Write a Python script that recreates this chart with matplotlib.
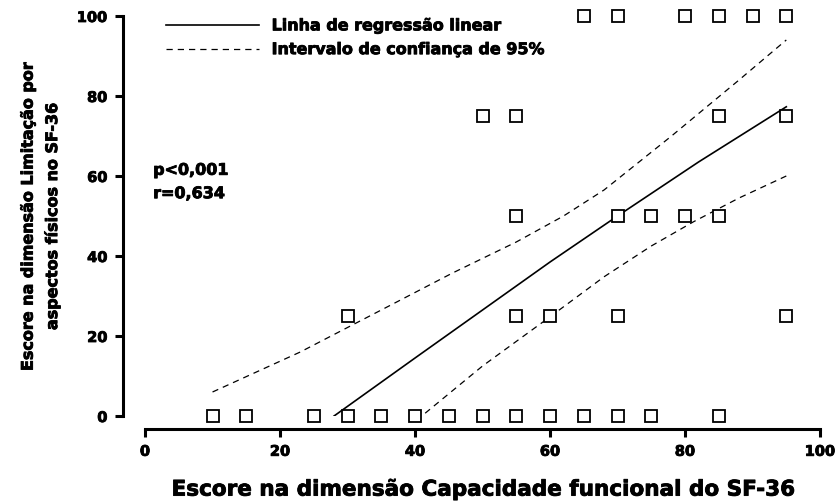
import matplotlib
matplotlib.use("Agg")
import matplotlib.pyplot as plt
import matplotlib.patheffects as pe

plt.rcParams['font.family'] = ['DejaVu Sans']
plt.rcParams['font.weight'] = 'bold'

# pontos observados (x = capacidade funcional, y = limitacao por aspectos fisicos)
x_y0 = [10, 15, 25, 30, 35, 40, 45, 50, 55, 60, 65, 70, 75, 85]
x_y25 = [30, 55, 60, 70, 95]
x_y50 = [55, 70, 75, 80, 85]
x_y75 = [50, 55, 85, 95]
x_y100 = [65, 70, 80, 85, 90, 95]

# linha de regressao e intervalo de confianca
reg_x = [28, 40, 50, 60, 70, 82, 95]
reg_y = [0, 14.5, 26.5, 38.5, 50, 63.5, 77.3]
ci_up_x = [10, 23, 35, 45.5, 55, 62, 68, 78, 88, 95]
ci_up_y = [6, 16, 26.5, 35.7, 43.5, 50, 56.5, 70, 84, 94]
ci_lo_x = [41.5, 50, 60, 68, 75, 81.3, 88, 95]
ci_lo_y = [0.7, 12.5, 24.8, 34.8, 42.5, 48.6, 54.5, 60]

heavy = [pe.withStroke(linewidth=0.6, foreground='black')]

fig = plt.figure(figsize=(8.35, 5.04), dpi=100)
ax = fig.add_axes([0.1737, 0.1746, 0.8084, 0.7937])

ax.plot(reg_x, reg_y, color='black', lw=1.2, label='Linha de regressão linear')
ax.plot(ci_up_x, ci_up_y, color='black', lw=0.9, ls=(0, (5, 4)), label='Intervalo de confiança de 95%')
ax.plot(ci_lo_x, ci_lo_y, color='black', lw=0.9, ls=(0, (5, 4)))

for xs, yv in [(x_y0, 0), (x_y25, 25), (x_y50, 50), (x_y75, 75), (x_y100, 100)]:
    ax.plot(xs, [yv] * len(xs), 's', ms=8.5, mfc='white', mec='black', mew=1.3, clip_on=False, zorder=3)

ax.set_xlim(0, 100)
ax.set_ylim(0, 100)
ax.set_xticks([0, 20, 40, 60, 80, 100])
ax.set_yticks([0, 20, 40, 60, 80, 100])

for s in ['top', 'right']:
    ax.spines[s].set_visible(False)
ax.spines['left'].set_position(('outward', 16))
ax.spines['bottom'].set_position(('outward', 9))
ax.spines['left'].set_linewidth(2.2)
ax.spines['bottom'].set_linewidth(2.2)
ax.tick_params(width=2.2, length=6, labelsize=10.5, pad=5)
for lab in ax.get_xticklabels() + ax.get_yticklabels():
    lab.set_fontweight('bold')
    lab.set_path_effects(heavy)

xl = ax.set_xlabel('Escore na dimensão Capacidade funcional do SF-36', fontsize=15.5, fontweight='bold', labelpad=15)
yl = ax.set_ylabel('Escore na dimensão Limitação por\naspectos físicos no SF-36', fontsize=11.5, fontweight='bold',
                   labelpad=12, linespacing=1.65)
xl.set_path_effects(heavy)
yl.set_path_effects(heavy)

t = ax.text(1.2, 58.5, 'p<0,001\nr=0,634', fontsize=11.5, fontweight='bold', va='center', linespacing=1.7)
t.set_path_effects(heavy)

leg = ax.legend(loc='upper left', bbox_to_anchor=(0.01, 1.03), frameon=False,
                prop={'weight': 'bold', 'size': 11.5}, handlelength=5.8, handletextpad=0.8, labelspacing=0.55)
for txt in leg.get_texts():
    txt.set_path_effects(heavy)

fig.savefig('out.png', dpi=100)
